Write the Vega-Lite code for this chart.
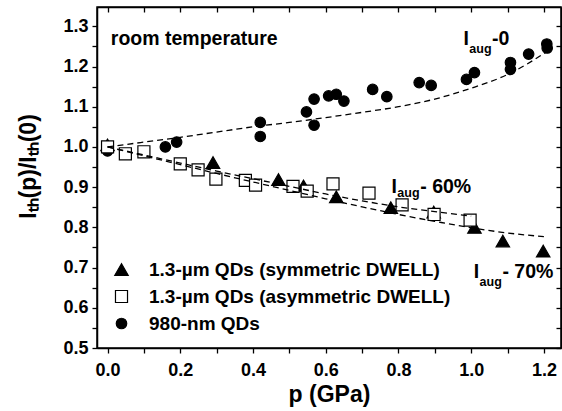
{
  "$schema": "https://vega.github.io/schema/vega-lite/v6.json",
  "width": 464,
  "height": 341,
  "autosize": {"type": "none"},
  "padding": {"left": 97, "top": 7, "right": 1, "bottom": 63},
  "background": "white",
  "config": {
    "font": "Liberation Sans",
    "view": {"stroke": "black", "strokeWidth": 1.5},
    "axis": {
      "grid": false,
      "domainColor": "black",
      "domainWidth": 1.5,
      "tickColor": "black",
      "tickWidth": 1.3,
      "labelColor": "black",
      "titleColor": "black",
      "labelFont": "Liberation Sans",
      "titleFont": "Liberation Sans",
      "labelFontWeight": "bold",
      "titleFontWeight": "bold",
      "labelFontSize": 18,
      "titleFontSize": 23,
      "labelOverlap": false,
      "labelFlush": false
    },
    "legend": {
      "title": null,
      "orient": "none",
      "legendX": 15,
      "legendY": 253,
      "padding": 0,
      "labelFontSize": 19,
      "labelFontWeight": "bold",
      "labelFont": "Liberation Sans",
      "labelColor": "black",
      "labelLimit": 500,
      "symbolStrokeWidth": 1.2,
      "labelOffset": 18,
      "rowPadding": 7
    }
  },
  "datasets": {
    "points": [
      {"s": "980-nm QDs", "p": 0, "r": 0.99},
      {"s": "980-nm QDs", "p": 0.159, "r": 1.0},
      {"s": "980-nm QDs", "p": 0.19, "r": 1.012},
      {"s": "980-nm QDs", "p": 0.42, "r": 1.061},
      {"s": "980-nm QDs", "p": 0.42, "r": 1.026},
      {"s": "980-nm QDs", "p": 0.547, "r": 1.087},
      {"s": "980-nm QDs", "p": 0.568, "r": 1.119},
      {"s": "980-nm QDs", "p": 0.568, "r": 1.054},
      {"s": "980-nm QDs", "p": 0.608, "r": 1.127},
      {"s": "980-nm QDs", "p": 0.629, "r": 1.131},
      {"s": "980-nm QDs", "p": 0.65, "r": 1.114},
      {"s": "980-nm QDs", "p": 0.729, "r": 1.143},
      {"s": "980-nm QDs", "p": 0.768, "r": 1.125},
      {"s": "980-nm QDs", "p": 0.857, "r": 1.16},
      {"s": "980-nm QDs", "p": 0.89, "r": 1.153},
      {"s": "980-nm QDs", "p": 0.987, "r": 1.168},
      {"s": "980-nm QDs", "p": 1.009, "r": 1.185},
      {"s": "980-nm QDs", "p": 1.108, "r": 1.21},
      {"s": "980-nm QDs", "p": 1.108, "r": 1.193},
      {"s": "980-nm QDs", "p": 1.158, "r": 1.231},
      {"s": "980-nm QDs", "p": 1.208, "r": 1.256},
      {"s": "980-nm QDs", "p": 1.209, "r": 1.246},
      {"s": "1.3-µm QDs (symmetric DWELL)", "p": 0, "r": 1.005},
      {"s": "1.3-µm QDs (symmetric DWELL)", "p": 0.29, "r": 0.961},
      {"s": "1.3-µm QDs (symmetric DWELL)", "p": 0.47, "r": 0.919},
      {"s": "1.3-µm QDs (symmetric DWELL)", "p": 0.539, "r": 0.903},
      {"s": "1.3-µm QDs (symmetric DWELL)", "p": 0.629, "r": 0.876},
      {"s": "1.3-µm QDs (symmetric DWELL)", "p": 0.779, "r": 0.849},
      {"s": "1.3-µm QDs (symmetric DWELL)", "p": 0.897, "r": 0.838},
      {"s": "1.3-µm QDs (symmetric DWELL)", "p": 1.009, "r": 0.8},
      {"s": "1.3-µm QDs (symmetric DWELL)", "p": 1.087, "r": 0.766},
      {"s": "1.3-µm QDs (symmetric DWELL)", "p": 1.198, "r": 0.741},
      {"s": "1.3-µm QDs (asymmetric DWELL)", "p": 0, "r": 1.0},
      {"s": "1.3-µm QDs (asymmetric DWELL)", "p": 0.049, "r": 0.983},
      {"s": "1.3-µm QDs (asymmetric DWELL)", "p": 0.1, "r": 0.988},
      {"s": "1.3-µm QDs (asymmetric DWELL)", "p": 0.2, "r": 0.958},
      {"s": "1.3-µm QDs (asymmetric DWELL)", "p": 0.249, "r": 0.943},
      {"s": "1.3-µm QDs (asymmetric DWELL)", "p": 0.298, "r": 0.92},
      {"s": "1.3-µm QDs (asymmetric DWELL)", "p": 0.379, "r": 0.917},
      {"s": "1.3-µm QDs (asymmetric DWELL)", "p": 0.407, "r": 0.905},
      {"s": "1.3-µm QDs (asymmetric DWELL)", "p": 0.51, "r": 0.902},
      {"s": "1.3-µm QDs (asymmetric DWELL)", "p": 0.549, "r": 0.89},
      {"s": "1.3-µm QDs (asymmetric DWELL)", "p": 0.62, "r": 0.908},
      {"s": "1.3-µm QDs (asymmetric DWELL)", "p": 0.719, "r": 0.885},
      {"s": "1.3-µm QDs (asymmetric DWELL)", "p": 0.81, "r": 0.856},
      {"s": "1.3-µm QDs (asymmetric DWELL)", "p": 0.898, "r": 0.832},
      {"s": "1.3-µm QDs (asymmetric DWELL)", "p": 0.997, "r": 0.818}
    ],
    "curves": [
      {"c": "aug0", "p": 0, "r": 1.0},
      {"c": "aug0", "p": 0.1, "r": 1.012},
      {"c": "aug0", "p": 0.2, "r": 1.024},
      {"c": "aug0", "p": 0.3, "r": 1.037},
      {"c": "aug0", "p": 0.4, "r": 1.05},
      {"c": "aug0", "p": 0.5, "r": 1.061},
      {"c": "aug0", "p": 0.6, "r": 1.073},
      {"c": "aug0", "p": 0.7, "r": 1.086},
      {"c": "aug0", "p": 0.8, "r": 1.1},
      {"c": "aug0", "p": 0.9, "r": 1.119},
      {"c": "aug0", "p": 1.0, "r": 1.146},
      {"c": "aug0", "p": 1.1, "r": 1.18},
      {"c": "aug0", "p": 1.21, "r": 1.238},
      {"c": "aug60", "p": 0, "r": 1.0},
      {"c": "aug60", "p": 0.1, "r": 0.98},
      {"c": "aug60", "p": 0.2, "r": 0.96},
      {"c": "aug60", "p": 0.3, "r": 0.94},
      {"c": "aug60", "p": 0.4, "r": 0.921},
      {"c": "aug60", "p": 0.5, "r": 0.902},
      {"c": "aug60", "p": 0.6, "r": 0.883},
      {"c": "aug60", "p": 0.7, "r": 0.866},
      {"c": "aug60", "p": 0.8, "r": 0.851},
      {"c": "aug60", "p": 0.9, "r": 0.839},
      {"c": "aug60", "p": 1.0, "r": 0.828},
      {"c": "aug70", "p": 0, "r": 1.0},
      {"c": "aug70", "p": 0.1, "r": 0.978},
      {"c": "aug70", "p": 0.2, "r": 0.956},
      {"c": "aug70", "p": 0.3, "r": 0.934},
      {"c": "aug70", "p": 0.4, "r": 0.913},
      {"c": "aug70", "p": 0.5, "r": 0.892},
      {"c": "aug70", "p": 0.6, "r": 0.871},
      {"c": "aug70", "p": 0.7, "r": 0.851},
      {"c": "aug70", "p": 0.8, "r": 0.832},
      {"c": "aug70", "p": 0.9, "r": 0.815},
      {"c": "aug70", "p": 1.0, "r": 0.799},
      {"c": "aug70", "p": 1.1, "r": 0.786},
      {"c": "aug70", "p": 1.2, "r": 0.777}
    ],
    "bigtext": [
      {"t": "room temperature", "p": 0.009, "r": 1.254},
      {"t": "I", "p": 0.979, "r": 1.254},
      {"t": "-0", "p": 1.057, "r": 1.254},
      {"t": "I", "p": 0.781, "r": 0.885},
      {"t": "- 60%", "p": 0.86, "r": 0.885},
      {"t": "I", "p": 1.007, "r": 0.673},
      {"t": "- 70%", "p": 1.086, "r": 0.673}
    ],
    "subtext": [
      {"t": "aug", "p": 0.995, "r": 1.234},
      {"t": "aug", "p": 0.797, "r": 0.876},
      {"t": "aug", "p": 1.023, "r": 0.653}
    ]
  },
  "layer": [
    {
      "data": {"name": "points"},
      "mark": {"type": "point", "filled": true, "strokeWidth": 1.2, "opacity": 1},
      "encoding": {
        "x": {
          "field": "p", "type": "quantitative",
          "scale": {"domain": [-0.029, 1.247], "nice": false, "zero": false},
          "axis": {"orient": "top", "values": [0, 0.1, 0.2, 0.3, 0.4, 0.5, 0.6, 0.7, 0.8, 0.9, 1.0, 1.1, 1.2], "labels": false, "title": null, "tickSize": -5}
        },
        "y": {
          "field": "r", "type": "quantitative",
          "scale": {"domain": [0.5, 1.348], "nice": false, "zero": false},
          "axis": {"orient": "right", "values": [0.5, 0.55, 0.6, 0.65, 0.7, 0.75, 0.8, 0.85, 0.9, 0.95, 1.0, 1.05, 1.1, 1.15, 1.2, 1.25, 1.3], "labels": false, "title": null, "tickSize": -5}
        },
        "shape": {
          "field": "s", "type": "nominal",
          "scale": {"domain": ["1.3-µm QDs (symmetric DWELL)", "1.3-µm QDs (asymmetric DWELL)", "980-nm QDs"], "range": ["triangle-up", "square", "circle"]}
        },
        "fill": {
          "field": "s", "type": "nominal",
          "scale": {"domain": ["1.3-µm QDs (symmetric DWELL)", "1.3-µm QDs (asymmetric DWELL)", "980-nm QDs"], "range": ["black", "white", "black"]}
        },
        "stroke": {
          "field": "s", "type": "nominal",
          "scale": {"domain": ["1.3-µm QDs (symmetric DWELL)", "1.3-µm QDs (asymmetric DWELL)", "980-nm QDs"], "range": ["black", "black", "black"]}
        },
        "size": {
          "field": "s", "type": "nominal",
          "scale": {"domain": ["1.3-µm QDs (symmetric DWELL)", "1.3-µm QDs (asymmetric DWELL)", "980-nm QDs"], "range": [180, 110, 135]}
        }
      }
    },
    {
      "data": {"name": "curves"},
      "mark": {"type": "line", "strokeDash": [6, 4], "strokeWidth": 1.3, "color": "black", "interpolate": "monotone"},
      "encoding": {
        "x": {
          "field": "p", "type": "quantitative",
          "scale": {"domain": [-0.029, 1.247], "nice": false, "zero": false},
          "axis": {"orient": "bottom", "values": [0, 0.1, 0.2, 0.3, 0.4, 0.5, 0.6, 0.7, 0.8, 0.9, 1.0, 1.1, 1.2], "labelExpr": "round(datum.value*10) % 2 == 0 ? format(datum.value, '.1f') : ''", "title": "p (GPa)", "tickSize": 5, "labelPadding": 8, "titlePadding": 4}
        },
        "y": {
          "field": "r", "type": "quantitative",
          "scale": {"domain": [0.5, 1.348], "nice": false, "zero": false},
          "axis": {"orient": "left", "values": [0.5, 0.55, 0.6, 0.65, 0.7, 0.75, 0.8, 0.85, 0.9, 0.95, 1.0, 1.05, 1.1, 1.15, 1.2, 1.25, 1.3], "labelExpr": "round(datum.value*20) % 2 == 0 ? format(datum.value, '.1f') : ''", "title": "I\u209c\u2095(p)/I\u209c\u2095(0)", "tickSize": 5, "labelPadding": 4, "titlePadding": 22, "titleY": 159}
        },
        "detail": {"field": "c", "type": "nominal"}
      }
    },
    {
      "data": {"name": "bigtext"},
      "mark": {"type": "text", "align": "left", "baseline": "alphabetic", "fontSize": 19.5, "fontWeight": "bold", "font": "Liberation Sans", "color": "black"},
      "encoding": {
        "x": {"field": "p", "type": "quantitative", "scale": {"domain": [-0.029, 1.247], "nice": false, "zero": false}, "axis": null},
        "y": {"field": "r", "type": "quantitative", "scale": {"domain": [0.5, 1.348], "nice": false, "zero": false}, "axis": null},
        "text": {"field": "t", "type": "nominal"}
      }
    },
    {
      "data": {"name": "subtext"},
      "mark": {"type": "text", "align": "left", "baseline": "alphabetic", "fontSize": 12.5, "fontWeight": "bold", "font": "Liberation Sans", "color": "black"},
      "encoding": {
        "x": {"field": "p", "type": "quantitative", "scale": {"domain": [-0.029, 1.247], "nice": false, "zero": false}, "axis": null},
        "y": {"field": "r", "type": "quantitative", "scale": {"domain": [0.5, 1.348], "nice": false, "zero": false}, "axis": null},
        "text": {"field": "t", "type": "nominal"}
      }
    }
  ],
  "resolve": {"axis": {"x": "independent", "y": "independent"}}
}
